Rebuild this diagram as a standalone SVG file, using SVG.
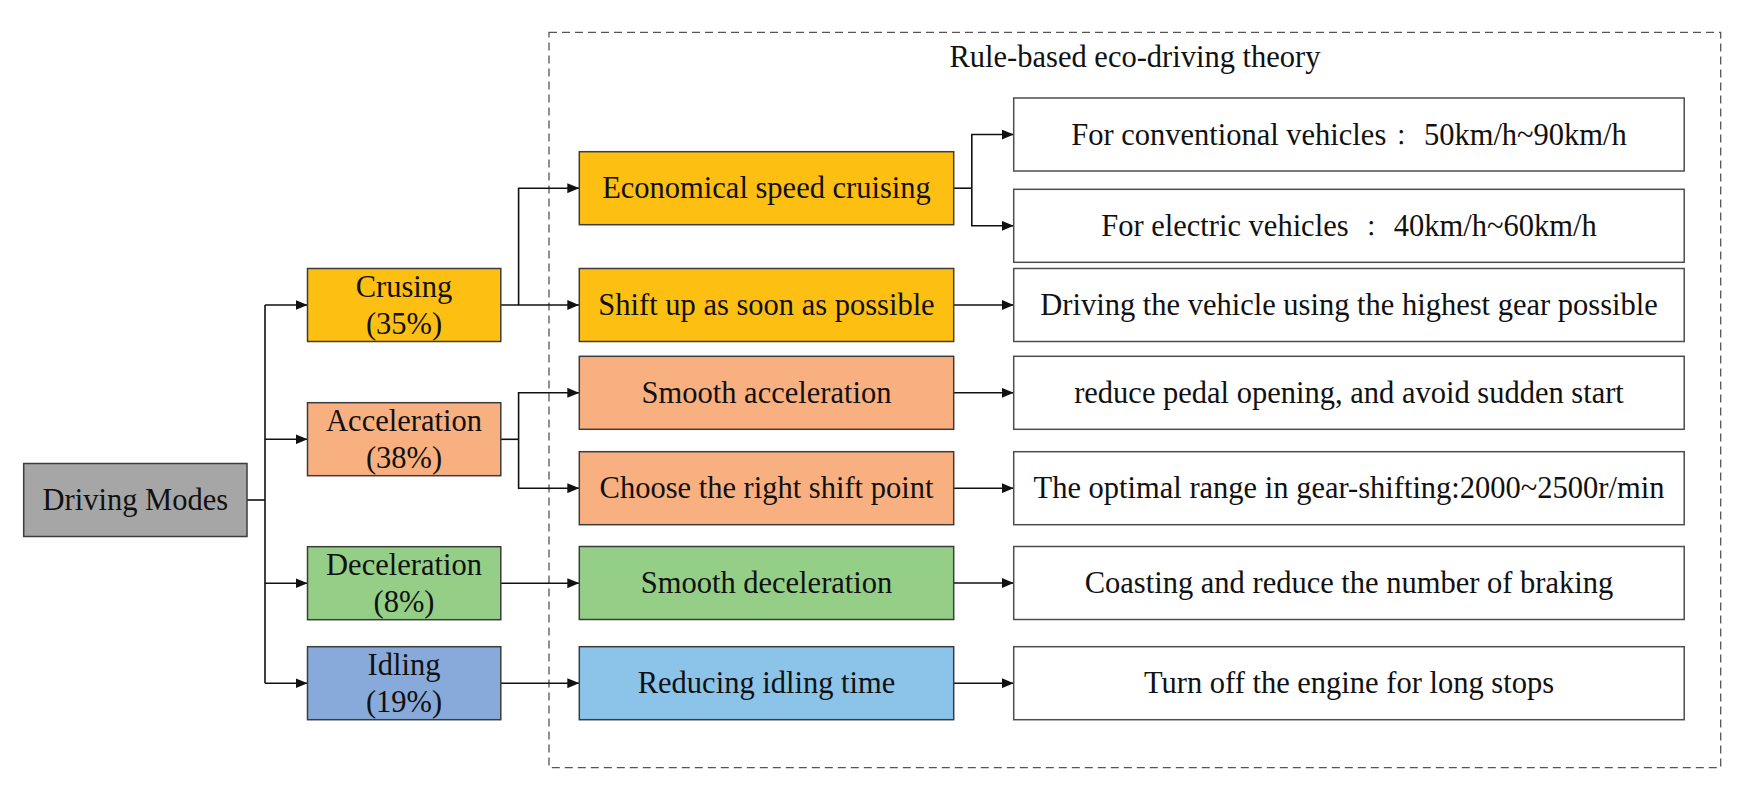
<svg xmlns="http://www.w3.org/2000/svg" width="1754" height="799" viewBox="0 0 1754 799">
<style>
  .box { stroke: #3c3c3c; stroke-width: 1.5; }
  .leaf { fill: #ffffff; stroke: #4d4d4d; stroke-width: 1.5; }
  .t { font-family: "Liberation Serif", "Noto Sans CJK JP", serif; font-size: 30.5px; fill: #111111; text-anchor: middle; }
  .col { font-size: 22px; }
  .c { fill: none; stroke: #111111; stroke-width: 1.6; }
  .a { marker-end: url(#arr); }
  .gold { fill: #FDC012; }
  .salmon { fill: #F8B080; }
  .green { fill: #94CE87; }
  .blue1 { fill: #87AADA; }
  .blue2 { fill: #8BC3E9; }
  .grey { fill: #A6A6A6; }
</style>
<defs>
  <marker id="arr" markerUnits="userSpaceOnUse" markerWidth="12" markerHeight="10" refX="12" refY="5" orient="auto">
    <path d="M0,0 L12,5 L0,10 z" fill="#111111"/>
  </marker>
</defs>
<rect width="1754" height="799" fill="#ffffff"/>

<g id="frame">
  <rect x="549" y="32.3" width="1171.7" height="735.4" fill="none" stroke="#555555" stroke-width="1.3" stroke-dasharray="8,5"/>
  <text class="t" x="1135" y="67">Rule-based eco-driving theory</text>
</g>

<g id="connectors">
  <path class="c" d="M247,500 H265"/>
  <path class="c" d="M265,305 V683.2"/>
  <path class="c a" d="M265,305 H307.5"/>
  <path class="c a" d="M265,439.3 H307.5"/>
  <path class="c a" d="M265,583.2 H307.5"/>
  <path class="c a" d="M265,683.2 H307.5"/>

  <path class="c a" d="M500.8,305 H579.3"/>
  <path class="c a" d="M518.6,305 V188.2 H579.3"/>

  <path class="c" d="M500.8,439.3 H518.6"/>
  <path class="c a" d="M518.6,439.3 V392.8 H579.3"/>
  <path class="c a" d="M518.6,439.3 V488.2 H579.3"/>

  <path class="c a" d="M500.8,583.2 H579.3"/>
  <path class="c a" d="M500.8,683.2 H579.3"/>

  <path class="c" d="M953.7,188.2 H971.8"/>
  <path class="c a" d="M971.8,188.2 V134.5 H1013.7"/>
  <path class="c a" d="M971.8,188.2 V225.8 H1013.7"/>
  <path class="c a" d="M953.7,305 H1013.7"/>
  <path class="c a" d="M953.7,392.8 H1013.7"/>
  <path class="c a" d="M953.7,488.2 H1013.7"/>
  <path class="c a" d="M953.7,583 H1013.7"/>
  <path class="c a" d="M953.7,683.2 H1013.7"/>
</g>

<g id="driving-modes">
  <rect class="box grey" x="23.7" y="463.5" width="223.3" height="73"/>
  <text class="t" x="135.3" y="510">Driving Modes</text>
</g>

<g id="crusing">
  <rect class="box gold" x="307.5" y="268.5" width="193.3" height="73"/>
  <text class="t" x="404" y="296.5">Crusing</text>
  <text class="t" x="404" y="333.5">(35%)</text>
</g>
<g id="acceleration">
  <rect class="box salmon" x="307.5" y="402.7" width="193.3" height="73"/>
  <text class="t" x="404" y="430.5">Acceleration</text>
  <text class="t" x="404" y="467.5">(38%)</text>
</g>
<g id="deceleration">
  <rect class="box green" x="307.5" y="546.7" width="193.3" height="73"/>
  <text class="t" x="404" y="574.5">Deceleration</text>
  <text class="t" x="404" y="611.5">(8%)</text>
</g>
<g id="idling">
  <rect class="box blue1" x="307.5" y="646.7" width="193.3" height="73"/>
  <text class="t" x="404" y="675">Idling</text>
  <text class="t" x="404" y="712">(19%)</text>
</g>

<g id="economical-speed-cruising">
  <rect class="box gold" x="579.3" y="151.7" width="374.4" height="73"/>
  <text class="t" x="766.5" y="198">Economical speed cruising</text>
</g>
<g id="shift-up">
  <rect class="box gold" x="579.3" y="268.5" width="374.4" height="73"/>
  <text class="t" x="766.5" y="315">Shift up as soon as possible</text>
</g>
<g id="smooth-acceleration">
  <rect class="box salmon" x="579.3" y="356.3" width="374.4" height="73"/>
  <text class="t" x="766.5" y="402.8">Smooth acceleration</text>
</g>
<g id="choose-shift-point">
  <rect class="box salmon" x="579.3" y="451.7" width="374.4" height="73"/>
  <text class="t" x="766.5" y="498.2">Choose the right shift point</text>
</g>
<g id="smooth-deceleration">
  <rect class="box green" x="579.3" y="546.5" width="374.4" height="73"/>
  <text class="t" x="766.5" y="593">Smooth deceleration</text>
</g>
<g id="reducing-idling">
  <rect class="box blue2" x="579.3" y="646.7" width="374.4" height="73"/>
  <text class="t" x="766.5" y="693.2">Reducing idling time</text>
</g>

<g id="conventional">
  <rect class="leaf" x="1013.7" y="98" width="670.5" height="73"/>
  <text class="t" x="1349" y="144.5">For conventional vehicles<tspan class="col" dx="4">：</tspan><tspan dx="4"> 50km/h~90km/h</tspan></text>
</g>
<g id="electric">
  <rect class="leaf" x="1013.7" y="189.3" width="670.5" height="73"/>
  <text class="t" x="1349" y="235.8">For electric vehicles <tspan class="col" dx="4">：</tspan><tspan dx="4"> 40km/h~60km/h</tspan></text>
</g>
<g id="highest-gear">
  <rect class="leaf" x="1013.7" y="268.5" width="670.5" height="73"/>
  <text class="t" x="1349" y="315">Driving the vehicle using the highest gear possible</text>
</g>
<g id="pedal">
  <rect class="leaf" x="1013.7" y="356.3" width="670.5" height="73"/>
  <text class="t" x="1349" y="402.8">reduce pedal opening, and avoid sudden start</text>
</g>
<g id="optimal-range">
  <rect class="leaf" x="1013.7" y="451.7" width="670.5" height="73"/>
  <text class="t" x="1349" y="498.2">The optimal range in gear-shifting:2000~2500r/min</text>
</g>
<g id="coasting">
  <rect class="leaf" x="1013.7" y="546.5" width="670.5" height="73"/>
  <text class="t" x="1349" y="593">Coasting and reduce the number of braking</text>
</g>
<g id="turn-off">
  <rect class="leaf" x="1013.7" y="646.7" width="670.5" height="73"/>
  <text class="t" x="1349" y="693.2">Turn off the engine for long stops</text>
</g>
</svg>
